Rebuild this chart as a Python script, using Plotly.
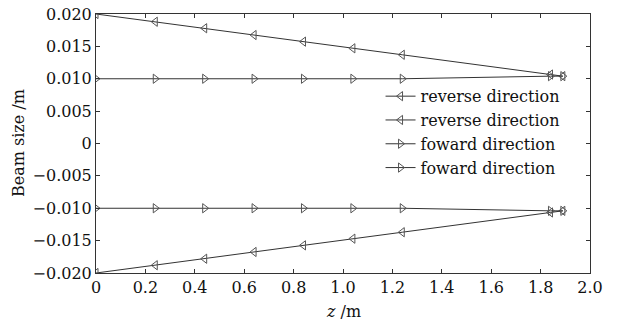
import plotly.graph_objects as go

z = [0, 0.24, 0.44, 0.64, 0.84, 1.04, 1.24, 1.84, 1.89]
reverse_top = [0.0200, 0.0188, 0.0178, 0.01675, 0.01573, 0.0147, 0.0137, 0.01065, 0.0104]
reverse_bot = [-v for v in reverse_top]
forward_top = [0.0100, 0.0100, 0.0100, 0.0100, 0.0100, 0.0100, 0.0100, 0.0104, 0.0104]
forward_bot = [-v for v in forward_top]

y_ticks = [0.020, 0.015, 0.010, 0.005, 0, -0.005, -0.010, -0.015, -0.020]
y_labels = ["0.020", "0.015", "0.010", "0.005", "0", "\u22120.005", "\u22120.010", "\u22120.015", "\u22120.020"]
x_ticks = [0, 0.2, 0.4, 0.6, 0.8, 1.0, 1.2, 1.4, 1.6, 1.8, 2.0]
x_labels = ["0", "0.2", "0.4", "0.6", "0.8", "1.0", "1.2", "1.4", "1.6", "1.8", "2.0"]

FONT = "DejaVu Serif"
TXT = "#111111"
fig = go.Figure()
series = [
    ("reverse direction", reverse_top, "triangle-left-open"),
    ("reverse direction", reverse_bot, "triangle-left-open"),
    ("foward direction", forward_top, "triangle-right-open"),
    ("foward direction", forward_bot, "triangle-right-open"),
]
for name, ys, sym in series:
    fig.add_trace(go.Scatter(
        x=z, y=ys, name=name, mode="lines+markers",
        line=dict(color="#333333", width=1),
        marker=dict(symbol=sym, size=8, color="#555555", line=dict(width=1, color="#555555")),
    ))

axis_common = dict(showline=True, linecolor="#333333", linewidth=1, mirror="ticks",
                   ticks="inside", ticklen=4, tickcolor="#333333", showgrid=False, zeroline=False,
                   ticklabeloverflow="allow", automargin=False,
                   tickfont=dict(family=FONT, size=16, color=TXT))
fig.update_xaxes(range=[0, 2.0], tickvals=x_ticks, ticktext=x_labels, **axis_common)
fig.update_yaxes(range=[-0.020, 0.020], tickvals=y_ticks, ticktext=y_labels, **axis_common)

# page body has an 8px margin; plot area at 96..590 x 14..273 in the final picture
L, T, R, B = 88, 6, 36, 61
PW, PH = 618 - L - R, 326 - T - B
fig.update_layout(
    width=618, height=326,
    margin=dict(l=L, r=R, t=T, b=B),
    paper_bgcolor="white", plot_bgcolor="white",
    legend=dict(x=0.576, y=0.748, xanchor="left", yanchor="top", bgcolor="rgba(0,0,0,0)",
                font=dict(family=FONT, size=16, color=TXT), tracegroupgap=0),
    showlegend=True,
)
fig.add_annotation(text="<i>z</i> /m", x=0.5, y=-(311 - 273) / PH, xref="paper", yref="paper",
                   showarrow=False, xanchor="center", yanchor="middle",
                   font=dict(family=FONT, size=16, color=TXT))
fig.add_annotation(text="Beam size /m", x=-(96 - 18) / PW, y=1 - (143 - 14) / PH, xref="paper", yref="paper",
                   showarrow=False, textangle=-90, xanchor="center", yanchor="middle",
                   font=dict(family=FONT, size=16, color=TXT))
fig.write_html("out.html")
